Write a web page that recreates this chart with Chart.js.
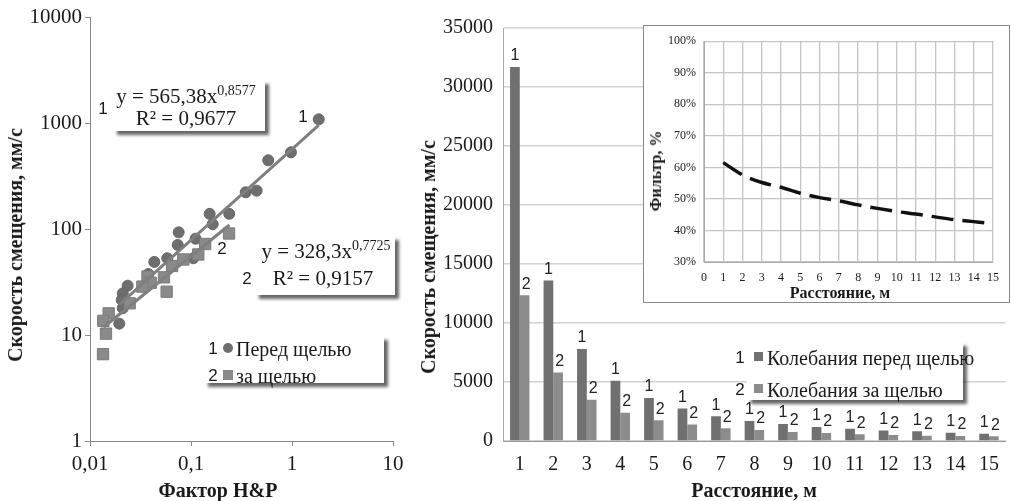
<!DOCTYPE html>
<html><head><meta charset="utf-8">
<script src="https://cdn.jsdelivr.net/npm/chart.js@4.4.1/dist/chart.umd.min.js"></script>
<style>
body{margin:0;background:#fff;}
#wrap{position:relative;width:1011px;height:501px;overflow:hidden;font-family:"Liberation Serif","Times New Roman",serif;color:#1a1a1a;}
canvas{position:absolute;}
.box{position:absolute;background:#fff;box-shadow:4px 4px 3px rgba(0,0,0,0.6);}
.t{position:absolute;white-space:nowrap;line-height:1;}
.c{transform:translate(-50%,-50%);}
.l{transform:translateY(-50%);}
.v{transform:translate(-50%,-50%) rotate(-90deg);}
.sans{font-family:"Liberation Sans",Arial,sans-serif;}
.b{font-weight:bold;}
.sup{font-size:14px;position:relative;top:-8px;}
.mk{position:absolute;}
#inset{position:absolute;left:643px;top:25px;width:365px;height:276px;border:1px solid #8a8a8a;background:#fff;}
</style>
</head><body>
<div id="wrap">
<canvas id="cA" width="420" height="501" style="left:0;top:0"></canvas>
<canvas id="cB" width="591" height="501" style="left:420px;top:0"></canvas>
<div id="inset"><canvas id="cC" width="365" height="276" style="left:0;top:0"></canvas></div>

<!-- left chart annotations -->
<div class="box" style="left:113px;top:80px;width:152px;height:51px"></div>
<div class="t c" style="left:186px;top:96px;font-size:21px">y = 565,38x<span class="sup">0,8577</span></div>
<div class="t c" style="left:186px;top:118px;font-size:21px">R² = 0,9677</div>
<div class="t c sans" style="left:103px;top:108px;font-size:17px">1</div>
<div class="t c sans" style="left:303px;top:116px;font-size:17px">1</div>

<div class="box" style="left:255px;top:236px;width:140px;height:59px"></div>
<div class="t c" style="left:326px;top:251px;font-size:21px">y = 328,3x<span class="sup">0,7725</span></div>
<div class="t c" style="left:323px;top:278px;font-size:21px">R² = 0,9157</div>
<div class="t c sans" style="left:247px;top:278px;font-size:17px">2</div>
<div class="t c sans" style="left:222px;top:248px;font-size:17px">2</div>

<div class="box" style="left:204px;top:336px;width:180px;height:47px"></div>
<div class="t c sans" style="left:213px;top:348px;font-size:17px">1</div>
<div class="mk" style="left:223px;top:343px;width:10px;height:10px;border-radius:50%;background:#6e6e6e"></div>
<div class="t l" style="left:236px;top:349px;font-size:20px">Перед щелью</div>
<div class="t c sans" style="left:213px;top:375px;font-size:17px">2</div>
<div class="mk" style="left:223px;top:370px;width:10px;height:10px;background:#8a8a8a"></div>
<div class="t l" style="left:236px;top:376px;font-size:20px">за щелью</div>

<div class="t v b" style="left:15px;top:245px;font-size:20px">Скорость смещения, мм/с</div>
<div class="t c b" style="left:218px;top:490px;font-size:20px">Фактор H&amp;P</div>

<!-- right chart annotations -->
<div class="box" style="left:747px;top:342px;width:216px;height:58px"></div>
<div class="t c sans" style="left:740px;top:357px;font-size:17px">1</div>
<div class="mk" style="left:754px;top:352px;width:9px;height:9px;background:#707070"></div>
<div class="t l" style="left:767px;top:358px;font-size:20px">Колебания перед щелью</div>
<div class="t c sans" style="left:740px;top:389px;font-size:17px">2</div>
<div class="mk" style="left:754px;top:384px;width:9px;height:9px;background:#8c8c8c"></div>
<div class="t l" style="left:767px;top:390px;font-size:20px">Колебания за щелью</div>

<div class="t v b" style="left:428px;top:257px;font-size:20px">Скорость смещения, мм/с</div>
<div class="t c b" style="left:754px;top:490px;font-size:20px">Расстояние, м</div>

<div class="t v b" style="left:656px;top:171px;font-size:16px">Фильтр, %</div>
<div class="t c b" style="left:840px;top:293px;font-size:16px">Расстояние, м</div>
</div>

<script>
// ---------- Left chart data (log-log scatter) ----------
const beforeSlotX = [1.84, 0.977, 0.582, 0.348, 0.447, 0.153, 0.239, 0.164, 0.0755, 0.0739, 0.111, 0.0433, 0.0582, 0.1054, 0.0378, 0.0236, 0.0211, 0.0206, 0.0211, 0.0195];
const beforeSlotY = [1083, 529, 445, 222, 230, 139, 139, 111, 93, 70.7, 81, 48.9, 53, 53, 37.6, 29.2, 24.7, 21.4, 17.9, 12.8];
const behindSlotX = [0.238, 0.138, 0.118, 0.0839, 0.0649, 0.054, 0.0574, 0.0371, 0.0399, 0.033, 0.0247, 0.0153, 0.01355, 0.0144, 0.01345];
const behindSlotY = [90.7, 72.2, 57.5, 51.6, 44.8, 35, 25.6, 35.6, 31.1, 28.6, 19.9, 16, 13.6, 10.3, 6.6];
const trend1X = [0.0195, 1.84];
const trend1Y = [19.3, 954];
const trend2X = [0.0137, 0.24];
const trend2Y = [11.9, 109];
const leftXTickValues = [0.01, 0.1, 1, 10];
const leftXTickLabels = ['0,01', '0,1', '1', '10'];
const leftYTickValues = [1, 10, 100, 1000, 10000];
const leftYTickLabels = ['1', '10', '100', '1000', '10000'];

// ---------- Right chart data (bars) ----------
const distances = ['1','2','3','4','5','6','7','8','9','10','11','12','13','14','15'];
const vibBefore = [31700, 13600, 7800, 5100, 3650, 2750, 2100, 1700, 1440, 1190, 1040, 900, 820, 700, 620];
const vibBehind = [12350, 5800, 3500, 2400, 1750, 1400, 1080, 930, 760, 680, 570, 510, 450, 420, 400];
const barMarks = ['1', '2'];

// ---------- Inset data ----------
const filterDist = [1,2,3,4,5,6,7,8,9,10,11,12,13,14,15];
const filterPct = [0.615, 0.576, 0.552, 0.537, 0.518, 0.504, 0.494, 0.481, 0.470, 0.460, 0.452, 0.443, 0.434, 0.428, 0.422];

const SERIF = '"Liberation Serif", "Times New Roman", serif';
const TXT = '#1a1a1a';
Chart.defaults.font.family = SERIF;
Chart.defaults.color = TXT;

const pts = (xs, ys) => xs.map((x, i) => ({x: x, y: ys[i]}));

new Chart(document.getElementById('cA'), {
  type: 'scatter',
  data: { datasets: [
    { label: 'trend1', data: pts(trend1X, trend1Y), showLine: true, borderColor: '#7f7f7f', borderWidth: 3, pointRadius: 0, order: 0 },
    { label: 'trend2', data: pts(trend2X, trend2Y), showLine: true, borderColor: '#7f7f7f', borderWidth: 3, pointRadius: 0, order: 0 },
    { label: 'за щелью', data: pts(behindSlotX, behindSlotY), pointStyle: 'rect', pointRadius: 8, backgroundColor: '#8a8a8a', borderColor: '#7a7a7a', borderWidth: 1, order: 1 },
    { label: 'Перед щелью', data: pts(beforeSlotX, beforeSlotY), pointStyle: 'circle', pointRadius: 5.5, backgroundColor: '#6e6e6e', borderColor: '#666', borderWidth: 1, order: 2 }
  ]},
  options: {
    responsive: false, animation: false, devicePixelRatio: 1,
    layout: { padding: { top: 17, right: 27, left: 0, bottom: 0 } },
    plugins: { legend: { display: false }, tooltip: { enabled: false } },
    scales: {
      x: {
        type: 'logarithmic', min: 0.01, max: 10,
        afterBuildTicks: s => { s.ticks = leftXTickValues.map(v => ({ value: v })); },
        afterFit: s => { s.height = 60; },
        ticks: { callback: v => leftXTickLabels[leftXTickValues.indexOf(v)], font: { size: 21 }, color: TXT, padding: 6, maxRotation: 0, autoSkip: false },
        grid: { drawOnChartArea: false, color: '#888', tickLength: 5 },
        border: { color: '#888', width: 1 }
      },
      y: {
        type: 'logarithmic', min: 1, max: 10000,
        afterBuildTicks: s => { s.ticks = leftYTickValues.map(v => ({ value: v })); },
        afterFit: s => { s.width = 90; },
        ticks: { callback: v => leftYTickLabels[leftYTickValues.indexOf(v)], font: { size: 21 }, color: TXT, padding: 3, autoSkip: false },
        grid: { drawOnChartArea: false, color: '#888', tickLength: 5 },
        border: { color: '#888', width: 1 }
      }
    }
  }
});

const barLabels = {
  id: 'barLabels',
  afterDatasetsDraw(chart) {
    const ctx = chart.ctx;
    ctx.save();
    ctx.font = '16px "Liberation Sans", Arial, sans-serif';
    ctx.fillStyle = '#222';
    ctx.textAlign = 'center';
    ctx.textBaseline = 'bottom';
    chart.data.datasets.forEach((ds, di) => {
      chart.getDatasetMeta(di).data.forEach(el => {
        ctx.fillText(barMarks[di], el.x + (di ? 1.5 : 0), el.y - 3);
      });
    });
    ctx.restore();
  }
};

new Chart(document.getElementById('cB'), {
  type: 'bar',
  data: { labels: distances, datasets: [
    { label: 'Колебания перед щелью', data: vibBefore, backgroundColor: '#707070', categoryPercentage: 0.58, barPercentage: 1 },
    { label: 'Колебания за щелью', data: vibBehind, backgroundColor: '#8c8c8c', categoryPercentage: 0.58, barPercentage: 1 }
  ]},
  options: {
    responsive: false, animation: false, devicePixelRatio: 1,
    layout: { padding: { top: 28, right: 0, left: 0, bottom: 0 } },
    plugins: { legend: { display: false }, tooltip: { enabled: false } },
    scales: {
      x: {
        afterFit: s => { s.height = 60; },
        grid: { drawOnChartArea: false, drawTicks: false },
        border: { color: '#999', width: 1 },
        ticks: { font: { size: 20 }, color: TXT, padding: 12, maxRotation: 0, autoSkip: false }
      },
      y: {
        min: 0, max: 35000,
        afterFit: s => { s.width = 83; },
        ticks: { stepSize: 5000, callback: v => String(v), font: { size: 20 }, color: TXT, padding: 10 },
        grid: { color: '#d2d2d2', lineWidth: 1.5, drawTicks: false },
        border: { color: '#aaa', width: 1 }
      }
    }
  },
  plugins: [barLabels]
});

new Chart(document.getElementById('cC'), {
  type: 'line',
  data: { datasets: [
    { label: 'Фильтр', data: pts(filterDist, filterPct), borderColor: '#111', borderWidth: 3.5, borderDash: [22, 9], pointRadius: 0, cubicInterpolationMode: 'monotone', fill: false }
  ]},
  options: {
    responsive: false, animation: false, devicePixelRatio: 1,
    layout: { padding: { top: 11, right: 16, left: 0, bottom: 0 } },
    plugins: { legend: { display: false }, tooltip: { enabled: false } },
    scales: {
      x: {
        type: 'linear', min: 0, max: 15,
        afterFit: s => { s.height = 40; },
        ticks: { stepSize: 1, font: { size: 12 }, color: TXT, padding: 9, maxRotation: 0, autoSkip: false },
        grid: { color: '#c4c4c4', lineWidth: 1.3, drawTicks: false },
        border: { color: '#aaa', width: 1 }
      },
      y: {
        min: 0.3, max: 1.0,
        afterFit: s => { s.width = 60; },
        ticks: { stepSize: 0.1, callback: v => Math.round(v * 100) + '%', font: { size: 12 }, color: TXT, padding: 8 },
        grid: { color: '#c4c4c4', lineWidth: 1.3, drawTicks: false },
        border: { color: '#aaa', width: 1 }
      }
    }
  }
});
</script>
</body></html>
